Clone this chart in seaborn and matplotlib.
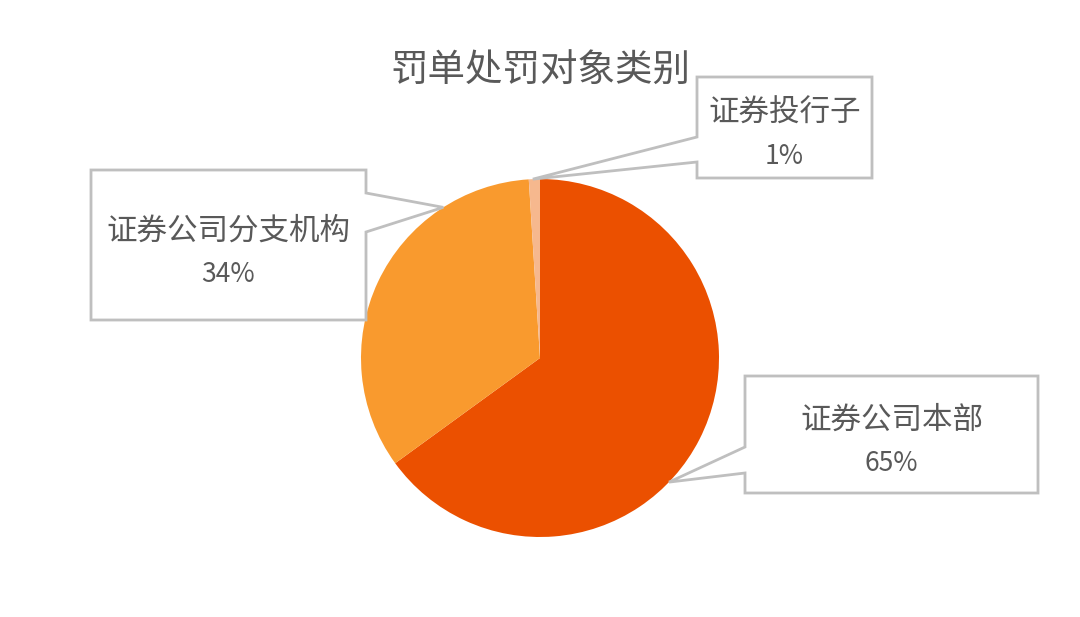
import numpy as np
import seaborn as sns
import matplotlib
matplotlib.use("Agg")
import matplotlib.pyplot as plt
from matplotlib.patches import Polygon

# data
categories = ['证券公司本部', '证券公司分支机构', '证券投行子']
shares = [65, 34, 1]
colors = ['#EB5000', '#F99A2E', '#F6B88E']

# callout layout (pixel space, y up): box x0, x1, y0, y1, pointer side, pointer y's, anchor angle
callouts = [
    dict(box=(745, 1038, 124, 241), side='left', py=(170, 144), ang=-43.9),
    dict(box=(91, 366, 297, 447), side='right', py=(424, 385), ang=122.7),
    dict(box=(697, 872, 439, 540), side='left', py=(480, 455), ang=92.3),
]


def draw_callout(ax, c, center, radius, line1, line2):
    x0, x1, y0, y1 = c['box']
    a = np.deg2rad(c['ang'])
    anchor = (center[0] + radius * np.cos(a), center[1] + radius * np.sin(a))
    p_hi, p_lo = max(c['py']), min(c['py'])
    if c['side'] == 'left':
        pts = [(x0, y1), (x1, y1), (x1, y0), (x0, y0), (x0, p_lo), anchor, (x0, p_hi)]
    else:
        pts = [(x0, y1), (x1, y1), (x1, p_hi), anchor, (x1, p_lo), (x1, y0), (x0, y0)]
    ax.add_patch(Polygon(pts, closed=True, facecolor='white', edgecolor='#BFBFBF',
                         linewidth=2, zorder=3))
    cx = (x0 + x1) / 2
    cy = (y0 + y1) / 2
    ax.text(cx, cy + 14, line1, ha='center', va='center', fontsize=22,
            color='#595959', zorder=4)
    ax.text(cx, cy - 29, line2, ha='center', va='center', fontsize=19,
            color='#595959', zorder=4)


sns.set_theme(style='white')
plt.rcParams['font.family'] = ['Noto Sans CJK SC', 'DejaVu Sans']

fig = plt.figure(figsize=(10.8, 6.17), dpi=100)
ax = fig.add_axes([0, 0, 1, 1])

center = (540, 259)
radius = 179
ax.pie(shares, colors=sns.color_palette(colors), startangle=90, counterclock=False,
       center=center, radius=radius, wedgeprops=dict(linewidth=0), frame=True)
ax.set_xlim(0, 1080)
ax.set_ylim(0, 617)
ax.set_aspect('equal')
ax.axis('off')

for cat, val, c in zip(categories, shares, callouts):
    draw_callout(ax, c, center, radius, cat, f'{val}%')

ax.text(540, 546, '罚单处罚对象类别', ha='center', va='center', fontsize=27, color='#595959')

fig.savefig('out.png', dpi=100, facecolor='white')
